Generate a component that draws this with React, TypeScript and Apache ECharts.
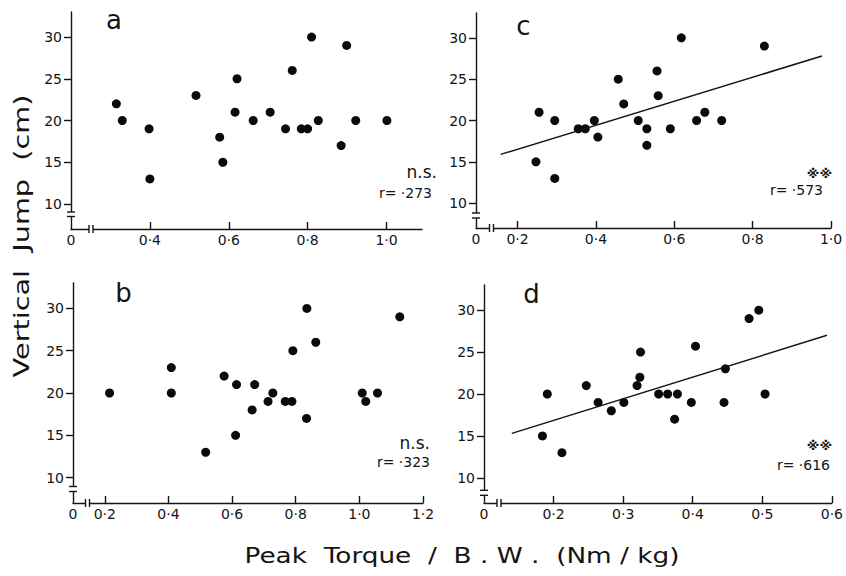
import React, { useEffect, useRef } from "react";
import * as echarts from "echarts";

// ---- data ----
const aX = [0.315, 0.33, 0.398, 0.4, 0.517, 0.577, 0.585, 0.616, 0.621, 0.662, 0.705, 0.744, 0.761, 0.784, 0.8, 0.81, 0.827, 0.885, 0.899, 0.922, 1.001];
const aY = [22, 20, 19, 13, 23, 18, 15, 21, 25, 20, 21, 19, 26, 19, 19, 30, 20, 17, 29, 20, 20];

const bX = [0.215, 0.409, 0.409, 0.517, 0.575, 0.611, 0.614, 0.663, 0.671, 0.713, 0.728, 0.767, 0.788, 0.791, 0.834, 0.835, 0.863, 1.009, 1.02, 1.057, 1.127];
const bY = [20, 23, 20, 13, 22, 15, 21, 18, 21, 19, 20, 19, 19, 25, 17, 30, 26, 20, 19, 20, 29];

const cX = [0.247, 0.255, 0.295, 0.295, 0.355, 0.373, 0.396, 0.405, 0.457, 0.471, 0.508, 0.53, 0.53, 0.556, 0.559, 0.59, 0.618, 0.657, 0.678, 0.721, 0.83];
const cY = [15, 21, 20, 13, 19, 19, 20, 18, 25, 22, 20, 19, 17, 26, 23, 19, 30, 20, 21, 20, 29];

const dX = [0.184, 0.191, 0.212, 0.247, 0.264, 0.283, 0.301, 0.32, 0.324, 0.325, 0.351, 0.364, 0.374, 0.378, 0.398, 0.404, 0.445, 0.447, 0.481, 0.495, 0.504];
const dY = [15, 20, 13, 21, 19, 18, 19, 21, 22, 25, 20, 20, 17, 20, 19, 25.7, 19, 23, 29, 30, 20];

const cLineX = [0.157, 0.977];
const cLineY = [15.9, 27.8];
const dLineX = [0.14, 0.593];
const dLineY = [15.3, 27.0];

const yTicks = [10, 15, 20, 25, 30];
const aTicks = [0.4, 0.6, 0.8, 1.0];
const bTicks = [0.2, 0.4, 0.6, 0.8, 1.0, 1.2];
const cTicks = [0.2, 0.4, 0.6, 0.8, 1.0];
const dTicks = [0.2, 0.3, 0.4, 0.5, 0.6];

const panelLetters = ["a", "b", "c", "d"];
const sigMarks = ["n.s.", "n.s.", "※※", "※※"];
const rTexts = ["r= ·273", "r= ·323", "r= ·573", "r= ·616"];

const yTitle = "Vertical  Jump  (cm)";
const xTitle = "Peak  Torque  /  B . W .  (Nm / kg)";

const INK = "#141414";
const FONT = "'DejaVu Sans', sans-serif";

function measure(text: string, font: string) {
  const ctx = document.createElement("canvas").getContext("2d");
  if (!ctx) return text.length * 10;
  ctx.font = font;
  return ctx.measureText(text).width;
}

export default function App() {
  const ref = useRef<HTMLDivElement>(null);

  useEffect(() => {
    document.body.style.margin = "0";
    if (!ref.current) return;
    const chart = echarts.init(ref.current, null, { renderer: "svg" });

    const panels = [
      { left: 71, top: 12, width: 351, height: 217, xMin: 0.2, xMax: 1.09, ticks: aTicks, xs: aX, ys: aY, xb: [18, 22], yb: [17, 12.5],
        letter: [114, 20], sig: [437, 172, "right"], r: [432, 193] },
      { left: 73, top: 283, width: 350, height: 220, xMin: 0.1, xMax: 1.2, ticks: bTicks, xs: bX, ys: bY, xb: [12.5, 16.5], yb: [16.5, 11.5],
        letter: [123.5, 293], sig: [430, 443, "right"], r: [430, 462] },
      { left: 476, top: 13, width: 355, height: 215, xMin: 0.094, xMax: 1.0, ticks: cTicks, xs: cX, ys: cY, xb: [13.5, 17.5], yb: [15, 10],
        letter: [523.5, 26], sig: [819.5, 173, "center"], r: [823, 190] },
      { left: 484, top: 285, width: 353, height: 218, xMin: 0.1, xMax: 0.6, ticks: dTicks, xs: dX, ys: dY, xb: [13, 17], yb: [12.7, 7.7],
        letter: [531.5, 294], sig: [819.5, 445, "center"], r: [830, 465] },
    ];

    const fmt = (min: number) => (v: number) =>
      Math.abs(v - min) < 1e-6 ? "0" : v.toFixed(1).replace(".", "·");

    const graphic: any[] = [];
    panels.forEach((p, i) => {
      const L = p.left;
      const B = p.top + p.height;
      // y-axis break
      graphic.push({ type: "rect", z: 100, shape: { x: L - 3, y: B - p.yb[0], width: 6, height: p.yb[0] - p.yb[1] }, style: { fill: "#fff" } });
      graphic.push({ type: "line", z: 101, shape: { x1: L - 4, y1: B - p.yb[0], x2: L + 4, y2: B - p.yb[0] }, style: { stroke: INK, lineWidth: 1.4 } });
      graphic.push({ type: "line", z: 101, shape: { x1: L - 4, y1: B - p.yb[1], x2: L + 4, y2: B - p.yb[1] }, style: { stroke: INK, lineWidth: 1.4 } });
      // x-axis break
      graphic.push({ type: "rect", z: 100, shape: { x: L + p.xb[0], y: B - 3, width: p.xb[1] - p.xb[0], height: 6 }, style: { fill: "#fff" } });
      graphic.push({ type: "line", z: 101, shape: { x1: L + p.xb[0], y1: B - 4, x2: L + p.xb[0], y2: B + 4 }, style: { stroke: INK, lineWidth: 1.4 } });
      graphic.push({ type: "line", z: 101, shape: { x1: L + p.xb[1], y1: B - 4, x2: L + p.xb[1], y2: B + 4 }, style: { stroke: INK, lineWidth: 1.4 } });
      // letters and stats
      graphic.push({ type: "text", z: 101, x: p.letter[0], y: p.letter[1], style: { text: panelLetters[i], font: `26px ${FONT}`, fill: INK, align: "center", verticalAlign: "middle" } });
      graphic.push({ type: "text", z: 101, x: p.sig[0] as number, y: p.sig[1] as number, style: { text: sigMarks[i], font: i < 2 ? `17px ${FONT}` : `bold 13px ${FONT}`, fill: INK, align: p.sig[2] as string, verticalAlign: "middle" } });
      graphic.push({ type: "text", z: 101, x: p.r[0], y: p.r[1], style: { text: rTexts[i], font: `14px ${FONT}`, fill: INK, align: "right", verticalAlign: "middle" } });
    });

    const xFont = `21px ${FONT}`;
    const xW = measure(xTitle, xFont);
    const yW = measure(yTitle, xFont);
    graphic.push({ type: "text", z: 101, x: 462, y: 556, scaleX: 435 / xW, style: { text: xTitle, font: xFont, fill: INK, align: "center", verticalAlign: "middle" } });
    graphic.push({ type: "text", z: 101, x: 22, y: 236, rotation: Math.PI / 2, scaleX: 283 / yW, style: { text: yTitle, font: xFont, fill: INK, align: "center", verticalAlign: "middle" } });

    const lineStyle = { color: INK, width: 1.4 };

    const option: any = {
      animation: false,
      backgroundColor: "#fff",
      grid: panels.map((p) => ({ left: p.left, top: p.top, width: p.width, height: p.height, containLabel: false })),
      xAxis: panels.map((p, i) => ({
        type: "value",
        gridIndex: i,
        min: p.xMin,
        max: p.xMax,
        axisLine: { show: true, onZero: false, lineStyle },
        axisTick: { show: true, inside: true, length: 7, customValues: p.ticks, lineStyle },
        axisLabel: { customValues: [p.xMin, ...p.ticks], formatter: fmt(p.xMin), margin: 4, color: INK, fontSize: 14, fontFamily: FONT },
        splitLine: { show: false },
      })),
      yAxis: panels.map((p, i) => ({
        type: "value",
        gridIndex: i,
        min: 7,
        max: 33,
        axisLine: { show: true, onZero: false, lineStyle },
        axisTick: { show: true, inside: false, length: 7, customValues: yTicks, lineStyle },
        axisLabel: { customValues: yTicks, margin: 9, color: INK, fontSize: 14, fontFamily: FONT },
        splitLine: { show: false },
      })),
      series: [
        ...panels.map((p, i) => ({
          type: "scatter",
          xAxisIndex: i,
          yAxisIndex: i,
          symbolSize: 9,
          itemStyle: { color: "#0a0a0a", opacity: 1 },
          data: p.xs.map((x, j) => [x, p.ys[j]]),
        })),
        {
          type: "line", xAxisIndex: 2, yAxisIndex: 2, symbol: "none",
          lineStyle: { color: INK, width: 1.5 },
          data: cLineX.map((x, j) => [x, cLineY[j]]),
        },
        {
          type: "line", xAxisIndex: 3, yAxisIndex: 3, symbol: "none",
          lineStyle: { color: INK, width: 1.5 },
          data: dLineX.map((x, j) => [x, dLineY[j]]),
        },
      ],
      graphic,
    };

    chart.setOption(option);
    return () => chart.dispose();
  }, []);

  return <div ref={ref} style={{ width: 846, height: 576 }} />;
}
